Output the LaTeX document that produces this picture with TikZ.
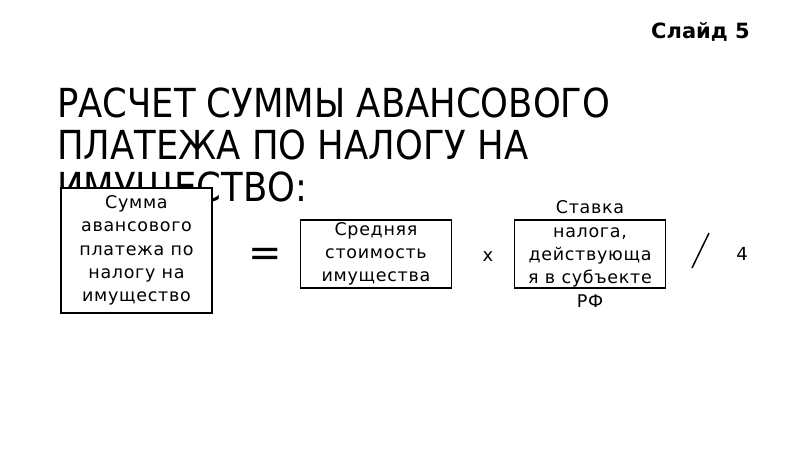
\documentclass[tikz,border=0pt]{standalone}
\usepackage{fontspec}
\setmainfont{DejaVu Sans}
\newfontfamily\boxfont[LetterSpace=4]{DejaVu Sans}
\usetikzlibrary{positioning}

\newcommand\narrow[1]{\scalebox{0.885}[1]{#1}}

\tikzset{
  box/.style={draw, line width=1.8pt, minimum width=151pt, inner sep=0pt},
  boxtext/.style={align=center, inner sep=0pt, font=\boxfont\fontsize{17.5}{23.3}\selectfont},
  sign/.style={inner sep=0pt},
}

\begin{document}
\begin{tikzpicture}[x=1pt, y=-1pt]
  \useasboundingbox (0,0) rectangle (800,450);

  % slide number and heading
  \node[anchor=base east, inner sep=0pt, font=\fontsize{21}{24}\selectfont\bfseries] (slide) at (750,38) {Слайд 5};
  \node[anchor=north west, inner sep=0pt, align=left, font=\fontsize{40}{42}\selectfont] (title) at (57,88)
    {\narrow{РАСЧЕТ СУММЫ АВАНСОВОГО}\\\narrow{ПЛАТЕЖА ПО НАЛОГУ НА}\\\narrow{ИМУЩЕСТВО:}};

  % the formula
  \node[box, fill=white, minimum height=125pt] (sum) at (136.5,250.5) {};
  \node[boxtext] (sumtext) at (sum.center) {Сумма\\авансового\\платежа по\\налогу на\\имущество};

  \node[sign, font=\fontsize{40}{40}\selectfont] (eq) at (265,257) {=};

  \node[box, minimum height=68pt] (cost) at (376,254) {};
  \node[boxtext] (costtext) at (cost.center) {Средняя\\стоимость\\имущества};

  \node[sign, font=\fontsize{18}{20}\selectfont] (times) at (488,257) {х};

  \node[box, minimum height=68pt] (rate) at (590,254) {};
  \node[boxtext] (ratetext) at (rate.center) {Ставка\\налога,\\действующа\\я в субъекте\\РФ};

  \coordinate (slashtop) at (709,233);
  \coordinate (slashbot) at (692,268);
  \draw[line width=1.5pt] (slashtop) -- (slashbot);

  \node[sign, font=\fontsize{18}{20}\selectfont] (four) at (742,254) {4};
\end{tikzpicture}
\end{document}
